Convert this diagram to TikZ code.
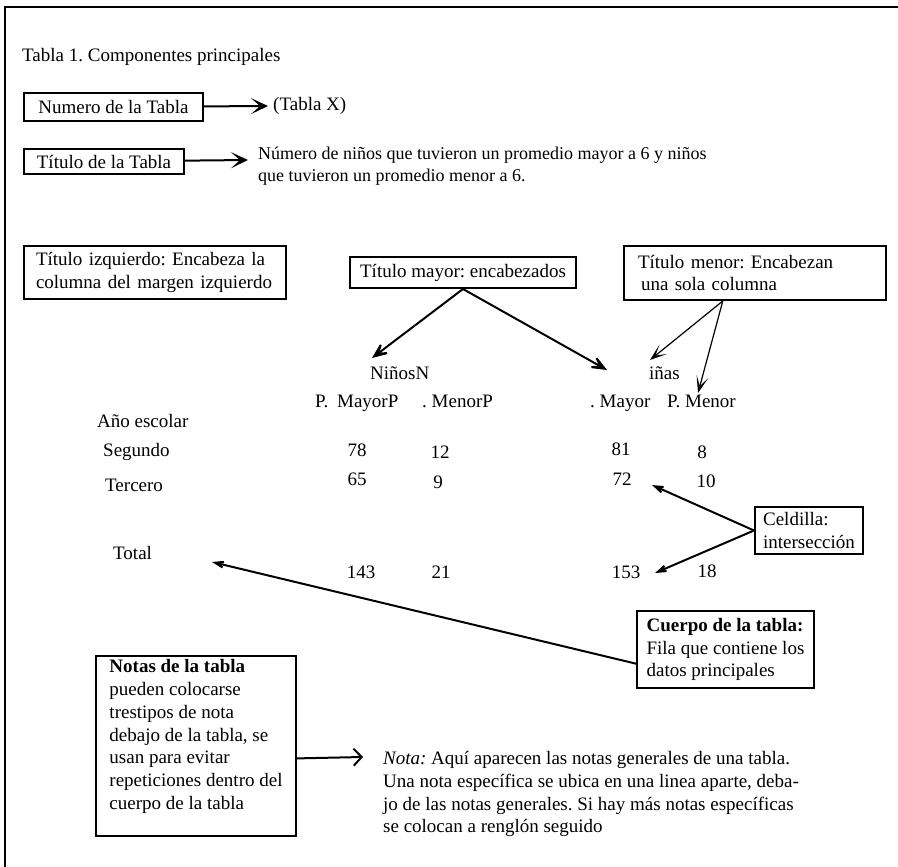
\documentclass[tikz,border=0pt]{standalone}
\usepackage{fontspec}
\setmainfont{Liberation Serif}
\usepackage{tikz}
\usetikzlibrary{arrows.meta,positioning}
\frenchspacing

\begin{document}
\begin{tikzpicture}[
    x=1pt, y=-1pt,
    font=\fontsize{19}{22.8}\selectfont,
    txt/.style={inner sep=0pt, text height=13pt, text depth=4pt},
    tag/.style={rectangle, draw, line width=2pt, inner sep=0pt},
    arrow/.style={-{Stealth[length=17pt,width=16pt,inset=9pt]}, line width=2pt},
    bigarrow/.style={-{Stealth[length=24pt,width=20pt,inset=15pt]}, line width=2pt},
    thinarrow/.style={-{Stealth[length=17pt,width=12pt,inset=10pt]}, line width=1.2pt},
    openarrow/.style={-{Stealth[length=25pt,width=17pt,inset=17pt]}, line width=2pt},
    chevron/.style={-{Straight Barb[length=8pt,width=17pt]}, line width=2pt}
]
    \useasboundingbox (0,0) rectangle (898,867);
    % Frame
    \draw[line width=2.5pt] (5,867) -- (5,7) -- (898,7);

    % Caption, number and title
    \node[txt, anchor=west] (caption) at (22,57) {Tabla 1. Componentes principales};
    \node[tag, anchor=north west, minimum width=179, minimum height=28] (numero) at (23,92) {Numero de la Tabla};
    \node[txt, anchor=west] (tablax) at (273,106) {(Tabla X)};
    \node[tag, anchor=north west, minimum width=160, minimum height=25] (titulo) at (23,148) {Título de la Tabla};
    \node[inner sep=0pt, anchor=north west, align=left, font=\fontsize{18}{22}\selectfont] (titulotxt) at (258,147)
        {Número de niños que tuvieron un promedio mayor a 6 y niños\\que tuvieron un promedio menor a 6.};
    \coordinate (numtip) at (268,106);
    \coordinate (tittip) at (248,160);

    % Heading boxes
    \node[tag, anchor=north west, text width=238, inner xsep=12pt, minimum height=53, align=left] (izq) at (23,245)
        {Título izquierdo: Encabeza la\\columna del margen izquierdo};
    \node[tag, anchor=north west, minimum width=226, minimum height=31] (mayor) at (349,256) {Título mayor: encabezados};
    \node[tag, anchor=north west, text width=234, inner xsep=14pt, minimum height=54, align=left] (menor) at (623,245)
        {Título menor: Encabezan\\\hspace*{3pt}una sola columna};

    % Table
    \node[txt, anchor=west] (ninos) at (370,375) {NiñosN};
    \node[txt, anchor=west] (ninas) at (649,375) {iñas};
    \node[txt, anchor=west] (pmayorp) at (315,403) {P.\hspace{4pt} MayorP};
    \node[txt, anchor=west] (menorp) at (422,403) {. MenorP};
    \node[txt, anchor=west] (pmayor) at (590,403) {. Mayor};
    \node[txt, anchor=west] (pmenor) at (667,403) {P. Menor};
    \node[txt, anchor=west] (anio) at (97,423) {Año escolar};
    \node[txt, anchor=west] (segundo) at (103,452) {Segundo};
    \node[txt, anchor=west] (tercero) at (105,487) {Tercero};
    \node[txt, anchor=west] (total) at (113,555) {Total};
    \node[txt] (a78) at (357,452) {78};
    \node[txt] (a12) at (440,454) {12};
    \node[txt] (a81) at (621,451) {81};
    \node[txt] (a8) at (702,454) {8};
    \node[txt] (b65) at (357,481) {65};
    \node[txt] (b9) at (438,484) {9};
    \node[txt] (b72) at (622,481) {72};
    \node[txt] (b10) at (706,483) {10};
    \node[txt] (c143) at (361,574) {143};
    \node[txt] (c21) at (441,574) {21};
    \node[txt] (c153) at (626,574) {153};
    \node[txt] (c18) at (707,573) {18};
    \coordinate (ninostip) at (372,358);
    \coordinate (ninastip) at (607,370);
    \coordinate (menortipa) at (650,360);
    \coordinate (menortipb) at (698,393);
    \coordinate (celtipa) at (652,485);
    \coordinate (celtipb) at (655,573);
    \coordinate (totaltip) at (212,562);

    % Cell and body boxes
    \node[tag, anchor=north west, minimum width=108, minimum height=47, align=left] (celdilla) at (754,506)
        {Celdilla:\\intersección};
    \node[tag, anchor=north west, minimum width=177, minimum height=77, align=left] (cuerpo) at (636,610)
        {\textbf{Cuerpo de la tabla:}\\Fila que contiene los\\datos principales};

    % Notes
    \node[tag, anchor=north west, minimum width=200, minimum height=180, align=left] (notas) at (95,655)
        {\textbf{Notas de la tabla}\\pueden colocarse\\trestipos de nota\\debajo de la tabla, se\\usan para evitar\\repeticiones dentro del\\cuerpo de la tabla\\ \mbox{}};
    \node[inner sep=0pt, anchor=north west, align=left] (nota) at (383,751)
        {\textit{Nota:} Aquí aparecen las notas generales de una tabla.\\Una nota específica se ubica en una linea aparte, deba-\\jo de las notas generales. Si hay más notas específicas\\se colocan a renglón seguido};
    \coordinate (notatip) at (363,757);

    % Arrows
    \draw[arrow] (numero) -- (numtip);
    \draw[arrow] (titulo) -- (tittip);
    \draw[bigarrow] (mayor.south) -- (ninostip);
    \draw[bigarrow] (mayor.south) -- (ninastip);
    \draw[thinarrow] (menor.221) -- (menortipa);
    \draw[thinarrow] (menor.221) -- (menortipb);
    \draw[openarrow] (celdilla.west) -- (celtipa);
    \draw[openarrow] (celdilla.west) -- (celtipb);
    \draw[openarrow] (cuerpo.189) -- (totaltip);
    \draw[chevron] (notas.-7) -- (notatip);

\end{tikzpicture}
\end{document}
